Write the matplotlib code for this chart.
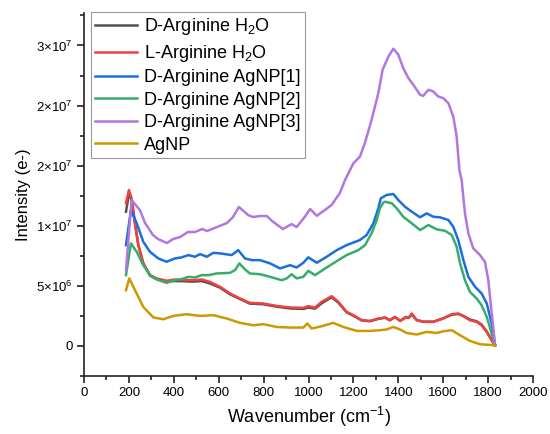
import numpy as np
import matplotlib
matplotlib.use("Agg")
import matplotlib.pyplot as plt
from matplotlib.ticker import FixedLocator, FixedFormatter, MultipleLocator

plt.rcParams['font.family'] = ['Liberation Sans', 'DejaVu Sans']
plt.rcParams['mathtext.fontset'] = 'custom'
plt.rcParams['mathtext.rm'] = 'Liberation Sans'
plt.rcParams['mathtext.it'] = 'Liberation Sans:italic'

# spectra, intensity in millions of counts
d_h2o_x = [187, 200, 212, 227, 242, 264, 294, 324, 368, 405, 450, 487, 524, 561, 606, 650, 695, 739,
           799, 858, 918, 977, 999, 1029, 1059, 1103, 1133, 1170, 1200, 1237, 1274, 1311,
           1341, 1363, 1385, 1408, 1434, 1445, 1460, 1482, 1511, 1556, 1600, 1638, 1667, 1690,
           1719, 1749, 1771, 1794, 1816, 1831]
d_h2o_y = [11.17, 12.6, 12.2, 10.2, 8.39, 6.87, 5.85, 5.55, 5.35, 5.4, 5.38, 5.35, 5.4, 5.2, 4.85, 4.3, 3.9, 3.52,
           3.47, 3.27, 3.12, 3.08, 3.2, 3.1, 3.55, 4.05, 3.6, 2.8, 2.52, 2.12, 2.06, 2.25,
           2.35, 2.14, 2.4, 2.1, 2.38, 2.33, 2.6, 2.16, 2.02, 2.02, 2.3, 2.6, 2.66, 2.5,
           2.2, 2.05, 1.78, 1.2, 0.5, 0.06]

l_h2o_x = d_h2o_x
l_h2o_y = [11.87, 12.97, 12.28, 10.2, 8.39, 6.87, 5.89, 5.62, 5.42, 5.53, 5.47, 5.47, 5.53, 5.33, 4.92, 4.37, 3.95, 3.58,
           3.53, 3.33, 3.2, 3.17, 3.31, 3.2, 3.67, 4.14, 3.67, 2.83, 2.56, 2.14, 2.08, 2.28,
           2.37, 2.14, 2.42, 2.08, 2.42, 2.33, 2.7, 2.14, 2.0, 2.0, 2.28, 2.64, 2.7, 2.47,
           2.14, 2.0, 1.72, 1.17, 0.47, 0.06]

agnp1_x = [187, 209, 235, 264, 294, 331, 368, 405, 435, 465, 494, 517, 547, 576, 606, 658, 687, 717, 747, 784,
           829, 873, 918, 947, 977, 999, 1037, 1081, 1126, 1170, 1229, 1259, 1289, 1311,
           1322, 1348, 1378, 1400, 1430, 1460, 1497, 1526, 1556, 1586, 1623, 1645, 1667, 1690,
           1712, 1742, 1771, 1794, 1816, 1831]
agnp1_y = [8.39, 11.31, 10.2, 8.67, 7.83, 7.28, 7.0, 7.28, 7.37, 7.56, 7.42, 7.64, 7.42, 7.75, 7.7, 7.56, 7.97, 7.28, 7.14, 7.14,
           6.87, 6.45, 6.72, 6.53, 6.92, 7.37, 6.92, 7.42, 7.97, 8.39, 8.81, 9.23, 10.2, 11.45,
           12.28, 12.56, 12.64, 12.14, 11.58, 11.17, 10.7, 11.03, 10.75, 10.7, 10.48, 9.92, 8.81, 7.14,
           5.75, 4.92, 4.37, 3.53, 1.87, 0.06]

agnp2_x = [187, 209, 235, 264, 294, 324, 368, 405, 435, 465, 494, 524, 554, 591, 650, 673, 692, 717, 739, 784,
           829, 881, 903, 925, 947, 977, 999, 1029, 1081, 1133, 1170, 1222, 1252, 1281, 1304, 1318, 1333,
           1341, 1371, 1393, 1422, 1460, 1497, 1534, 1571, 1608, 1638, 1660, 1675, 1697, 1719,
           1749, 1771, 1794, 1816, 1831]
agnp2_y = [5.89, 8.53, 7.83, 6.72, 5.89, 5.53, 5.25, 5.47, 5.56, 5.75, 5.7, 5.89, 5.89, 6.03, 6.08, 6.31, 6.87, 6.37, 6.03, 5.97,
           5.75, 5.47, 5.62, 5.97, 5.62, 5.75, 6.25, 5.89, 6.53, 7.14, 7.56, 7.97, 8.39, 9.37, 10.48, 11.45, 11.92,
           12.0, 11.87, 11.45, 10.75, 10.2, 9.64, 10.06, 9.7, 9.58, 9.23, 8.25, 6.87, 5.47, 4.5,
           3.95, 3.39, 2.42, 1.03, 0.06]

agnp3_x = [187, 212, 249, 272, 307, 330, 370, 396, 428, 463, 494, 526, 548, 592, 637, 664, 690, 731, 753, 784,
           814, 842, 886, 925, 947, 984, 1007, 1037, 1073, 1103, 1140, 1163,
           1200, 1229, 1251, 1281, 1311, 1330, 1356, 1378, 1400, 1422, 1445, 1467, 1497, 1511,
           1534, 1556, 1578, 1600, 1623, 1645, 1660, 1672,
           1682, 1697, 1712, 1734, 1764, 1786, 1801, 1813, 1823, 1831]
agnp3_y = [6.31, 12.14, 11.31, 10.23, 9.23, 8.89, 8.56, 8.89, 9.06, 9.48, 9.48, 9.73, 9.56, 9.89, 10.23, 10.73, 11.56, 10.89, 10.73, 10.81,
           10.81, 10.33, 9.73, 10.14, 9.89, 10.75, 11.39, 10.83, 11.31, 11.73, 12.73, 13.81,
           15.2, 15.75, 16.87, 18.81, 21.03, 22.98, 24.08, 24.73, 24.23, 23.12, 22.28, 21.73, 20.89, 20.81,
           21.31, 21.17, 20.75, 20.62, 20.2, 19.08, 17.42, 14.64,
           13.81, 11.03, 9.37, 8.12, 7.56, 7.0, 5.47, 3.25, 1.58, 0.06]

agnp_x = [187, 202, 227, 264, 309, 353, 398, 457, 517, 576, 636, 695, 754,
          799, 858, 918, 977, 995, 1014, 1059, 1110, 1155, 1215, 1274,
          1318, 1348, 1378, 1408, 1437, 1482, 1526, 1571, 1600, 1638, 1675, 1719, 1764, 1831]
agnp_y = [4.64, 5.62, 4.64, 3.25, 2.37, 2.22, 2.5, 2.64, 2.5, 2.56, 2.28, 1.92, 1.72,
          1.81, 1.58, 1.53, 1.53, 1.87, 1.45, 1.64, 1.92, 1.58, 1.25, 1.25,
          1.31, 1.37, 1.58, 1.37, 1.08, 0.95, 1.17, 1.08, 1.22, 1.31, 0.89, 0.42, 0.14, 0.06]

series = [
    ("D-Arginine H$_2$O", d_h2o_x, d_h2o_y, "#515151"),
    ("L-Arginine H$_2$O", l_h2o_x, l_h2o_y, "#F14040"),
    ("D-Arginine AgNP[1]", agnp1_x, agnp1_y, "#1A6FDF"),
    ("D-Arginine AgNP[2]", agnp2_x, agnp2_y, "#37AD6B"),
    ("D-Arginine AgNP[3]", agnp3_x, agnp3_y, "#B177DE"),
    ("AgNP", agnp_x, agnp_y, "#CC9900"),
]

ytick_vals = [0, 5e6, 1e7, 1.5e7, 2e7, 2.5e7]
ytick_text = ["0", r"$5{\times}10^{6}$", r"$1{\times}10^{7}$", r"$2{\times}10^{7}$",
              r"$2{\times}10^{7}$", r"$3{\times}10^{7}$"]

fig = plt.figure(figsize=(5.5, 4.34), dpi=100)
ax = fig.add_axes([84 / 550, 58 / 434, 449 / 550, 363 / 434])

for name, xs, ys, col in series:
    ax.plot(xs, np.array(ys) * 1e6, color=col, lw=1.8, label=name)

ax.set_xlim(0, 2000)
ax.set_ylim(-2.5e6, 2.77e7)
ax.xaxis.set_major_locator(MultipleLocator(200))
ax.xaxis.set_minor_locator(MultipleLocator(100))
ax.yaxis.set_major_locator(FixedLocator(ytick_vals))
ax.yaxis.set_major_formatter(FixedFormatter(ytick_text))
ax.yaxis.set_minor_locator(MultipleLocator(2.5e6))

for side in ("top", "right"):
    ax.spines[side].set_visible(False)
for side in ("left", "bottom"):
    ax.spines[side].set_linewidth(1.2)
    ax.spines[side].set_color("#222222")

ax.tick_params(which="major", length=5, width=1.2, labelsize=9.5, color="#222222", pad=3)
ax.tick_params(which="minor", length=3, width=1.2, color="#222222")

ax.set_xlabel("Wavenumber (cm$^{-1}$)", fontsize=13)
ax.set_ylabel("Intensity (e-)", fontsize=12)

leg = ax.legend(loc="upper left", bbox_to_anchor=(0.015, 1.003), borderaxespad=0,
                fontsize=13, fancybox=False, framealpha=1, edgecolor="#999999",
                handlelength=2.3, handletextpad=0.4, labelspacing=0.3, borderpad=0.25)
leg.get_frame().set_linewidth(0.8)

fig.savefig("out.png", dpi=100)
